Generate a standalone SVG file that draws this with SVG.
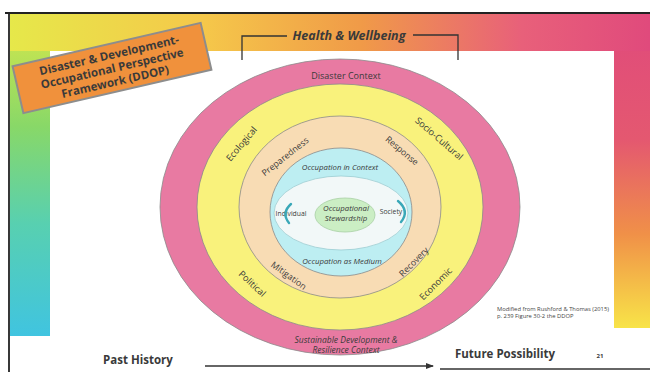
<svg xmlns="http://www.w3.org/2000/svg" width="650" height="372" viewBox="0 0 650 372">
<defs>
<linearGradient id="gTop" x1="0" y1="0" x2="1" y2="0">
<stop offset="0" stop-color="#e6e84a"/>
<stop offset="0.3" stop-color="#f5c84a"/>
<stop offset="0.55" stop-color="#f09a48"/>
<stop offset="0.8" stop-color="#e8607a"/>
<stop offset="1" stop-color="#e04a7c"/>
</linearGradient>
<linearGradient id="gLeft" x1="0" y1="0" x2="0" y2="1">
<stop offset="0" stop-color="#d8e84a"/>
<stop offset="0.35" stop-color="#88d868"/>
<stop offset="0.65" stop-color="#58d0b0"/>
<stop offset="1" stop-color="#40c4e0"/>
</linearGradient>
<linearGradient id="gRight" x1="0" y1="0" x2="0" y2="1">
<stop offset="0" stop-color="#e04a7c"/>
<stop offset="0.4" stop-color="#e45870"/>
<stop offset="0.7" stop-color="#f09048"/>
<stop offset="1" stop-color="#f8e448"/>
</linearGradient>
<marker id="arr" markerWidth="8" markerHeight="6" refX="7" refY="3" orient="auto" markerUnits="userSpaceOnUse">
<path d="M0,0 L8,3 L0,6 Z" fill="#333"/>
</marker>
</defs>
<style>
.ring{stroke:#8a8a8a;stroke-width:0.8}
.lbl{font-family:"Open Sans","Liberation Sans",sans-serif;fill:#3a3a3a;text-anchor:middle}
.it{font-style:italic}
.bold{font-weight:bold}
.teal{fill:none;stroke:#3aa8b8;stroke-width:2.4;stroke-linecap:round}
</style>
<rect width="650" height="372" fill="#ffffff"/>
<g id="frame">
<rect x="10" y="14" width="40" height="322" fill="url(#gLeft)"/>
<rect x="614" y="14" width="36" height="314" fill="url(#gRight)"/>
<rect x="10" y="14" width="640" height="37" fill="url(#gTop)"/>
<rect x="50" y="51" width="564" height="321" fill="#ffffff"/>
<line x1="5" y1="13" x2="650" y2="13" stroke="#222" stroke-width="2"/>
<line x1="9" y1="13" x2="9" y2="372" stroke="#222" stroke-width="1.8"/>
<line x1="440" y1="369" x2="650" y2="369" stroke="#333" stroke-width="1.5"/>
</g>
<g id="title">
<g transform="translate(112,68) rotate(-13)">
<rect x="-96.5" y="-24" width="193" height="48" fill="#f0913c" stroke="#8d8d8d" stroke-width="2"/>
<text class="lbl bold" x="0" y="-9" font-size="11.5" fill="#2a2a2a">Disaster &amp; Development-</text>
<text class="lbl bold" x="0" y="4.5" font-size="11.5" fill="#2a2a2a">Occupational Perspective</text>
<text class="lbl bold" x="0" y="18" font-size="11.5" fill="#2a2a2a">Framework (DDOP)</text>
</g>
</g>
<g id="health">
<path d="M242,60 V36 H287 M413,35 H458 V60" fill="none" stroke="#333" stroke-width="1.3"/>
<text class="lbl it bold" x="349" y="40" font-size="12.5">Health &amp; Wellbeing</text>
</g>
<g id="disaster-context">
<ellipse class="ring" cx="340" cy="207" rx="180" ry="148" fill="#e87aa2"/>
<text class="lbl" x="346" y="79" font-size="9">Disaster Context</text>
<text class="lbl it" x="346" y="343" font-size="8.5">Sustainable Development &amp;</text>
<text class="lbl it" x="346" y="353" font-size="8.5">Resilience Context</text>
</g>
<g id="yellow-ring">
<ellipse class="ring" cx="340" cy="207" rx="143" ry="123" fill="#f9f27c"/>
<text class="lbl" font-size="9.2" transform="translate(244,146) rotate(-50)">Ecological</text>
<text class="lbl" font-size="9.2" transform="translate(437,141) rotate(41)">Socio-Cultural</text>
<text class="lbl" font-size="9.2" transform="translate(250,286) rotate(43)">Political</text>
<text class="lbl" font-size="9.2" transform="translate(438,286) rotate(-45)">Economic</text>
</g>
<g id="peach-ring">
<ellipse class="ring" cx="340" cy="207" rx="101" ry="91" fill="#f8dcb4"/>
<text class="lbl" font-size="8.8" transform="translate(287,159) rotate(-38)">Preparedness</text>
<text class="lbl" font-size="8.8" transform="translate(400,153) rotate(40)">Response</text>
<text class="lbl" font-size="8.8" transform="translate(287,278) rotate(36)">Mitigation</text>
<text class="lbl" font-size="8.8" transform="translate(416,264) rotate(-45)">Recovery</text>
</g>
<g id="occupation-context">
<ellipse class="ring" cx="341" cy="212" rx="71" ry="64" fill="#bdeef2"/>
<text class="lbl it" x="340" y="170" font-size="7.8">Occupation in Context</text>
<text class="lbl it" x="342" y="264" font-size="7.8">Occupation as Medium</text>
</g>
<g id="occupation-inner">
<ellipse cx="341" cy="213" rx="67" ry="37" fill="#f2f8f8" stroke="#9ccdd2" stroke-width="0.8"/>
<text class="lbl" x="291" y="216" font-size="6.8">Individual</text>
<text class="lbl" x="391" y="214" font-size="6.8">Society</text>
<path class="teal" d="M291,204 Q281,213 289,223"/>
<path class="teal" d="M398,201 Q410,211 401,222"/>
</g>
<g id="stewardship">
<ellipse cx="345" cy="215" rx="30" ry="17" fill="#cbeec4" stroke="#a8cfa4" stroke-width="0.8"/>
<text class="lbl it" x="346" y="211" font-size="7.8">Occupational</text>
<text class="lbl it" x="346" y="221" font-size="7.8">Stewardship</text>
</g>
<g id="connectors">
<line x1="205" y1="366" x2="433" y2="366" stroke="#333" stroke-width="1.5" marker-end="url(#arr)"/>
</g>
<g id="timeline">
<text class="lbl bold" x="138" y="364" font-size="11.5" fill="#2a2a2a">Past History</text>
<text class="lbl bold" x="505" y="358" font-size="11.5" fill="#2a2a2a">Future Possibility</text>
<text class="lbl bold" x="600" y="358" font-size="6">21</text>
</g>
<g id="credit">
<text x="497" y="311" font-size="5.8" font-family="'Open Sans','Liberation Sans',sans-serif" fill="#444">Modified from Rushford &amp; Thomas (2015)</text>
<text x="497" y="318" font-size="5.8" font-family="'Open Sans','Liberation Sans',sans-serif" fill="#444">p. 239 Figure 30-2 the DDOP</text>
</g>
</svg>
